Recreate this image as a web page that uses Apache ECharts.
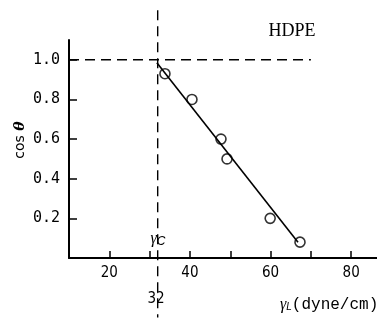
<!DOCTYPE html>
<html>
<head>
<meta charset="utf-8">
<script src="https://cdn.jsdelivr.net/npm/echarts@6/dist/echarts.min.js"></script>
<style>
  html, body { margin: 0; padding: 0; background: #fff; }
  #chart { width: 377px; height: 322px; }
</style>
</head>
<body>
<div id="chart"></div>
<script>
// 测定点 (γL, cosθ)
const surfaceTension = [33.8, 40.5, 47.7, 49.2, 59.9, 67.3];
const cosTheta = [0.93, 0.80, 0.60, 0.50, 0.20, 0.08];
// 拟合直线两端
const fitX = [31.8, 66.8];
const fitY = [0.985, 0.08];
// 临界表面张力
const criticalTension = 32;
const criticalSpan = [1.25, -0.30];
const unityLineX = [10, 70];
const xLabelValues = [20, 40, 60, 80];

const chart = echarts.init(document.getElementById('chart'), null, { renderer: 'canvas' });

const dashStyle = { color: '#000', width: 1.4, type: [10, 6] };
const narrowFont = '"DejaVu Sans Condensed", "Liberation Sans Narrow", "DejaVu Sans", sans-serif';

chart.setOption({
    animation: false,
    backgroundColor: '#fff',
    grid: { left: 69, right: 0, top: 40, bottom: 64 },
    xAxis: {
        type: 'value',
        min: 10,
        max: 86.4,
        interval: 10,
        axisLine: { show: true, lineStyle: { color: '#000', width: 2 } },
        axisTick: { show: true, inside: true, length: 7, lineStyle: { color: '#000', width: 1.5 } },
        splitLine: { show: false },
        axisLabel: {
            margin: 8,
            color: '#000',
            fontFamily: narrowFont,
            fontSize: 15,
            showMinLabel: false,
            showMaxLabel: false,
            formatter: v => xLabelValues.indexOf(v) >= 0 ? String(v) : ''
        }
    },
    yAxis: {
        type: 'value',
        min: 0,
        max: 1.1,
        interval: 0.2,
        axisLine: { show: true, lineStyle: { color: '#000', width: 2 } },
        axisTick: { show: true, inside: true, length: 8, lineStyle: { color: '#000', width: 1.5 } },
        splitLine: { show: false },
        axisLabel: {
            margin: 9,
            color: '#000',
            fontFamily: 'DejaVu Sans Mono',
            fontSize: 15,
            showMaxLabel: false,
            formatter: v => v === 0 ? '' : v.toFixed(1)
        }
    },
    series: [
        {
            // γc 竖虚线
            type: 'line',
            clip: false,
            silent: true,
            symbol: 'none',
            data: criticalSpan.map(y => [criticalTension, y]),
            lineStyle: dashStyle
        },
        {
            // cosθ = 1 横虚线
            type: 'line',
            clip: false,
            silent: true,
            symbol: 'none',
            data: unityLineX.map(x => [x, 1.0]),
            lineStyle: dashStyle
        },
        {
            type: 'line',
            symbol: 'none',
            data: fitX.map((x, i) => [x, fitY[i]]),
            lineStyle: { color: '#000', width: 1.6 }
        },
        {
            type: 'scatter',
            symbol: 'circle',
            symbolSize: 10,
            data: surfaceTension.map((x, i) => [x, cosTheta[i]]),
            itemStyle: { color: '#fff', borderColor: '#000', borderWidth: 1.6 }
        }
    ],
    graphic: [
        {
            type: 'text',
            x: 292, y: 31,
            style: {
                text: 'HDPE',
                font: '18px "Liberation Serif"',
                fill: '#000',
                textAlign: 'center',
                textVerticalAlign: 'middle'
            }
        },
        {
            type: 'text',
            x: 20, y: 140,
            rotation: Math.PI / 2,
            style: {
                text: '{a|cos }{b|θ}',
                textAlign: 'center',
                textVerticalAlign: 'middle',
                rich: {
                    a: { font: '14px "DejaVu Sans"', fill: '#000' },
                    b: { font: 'italic bold 14px "DejaVu Serif"', fill: '#000' }
                }
            }
        },
        {
            type: 'text',
            x: 158, y: 239,
            style: {
                text: '{g|γ}{s|C}',
                textAlign: 'center',
                textVerticalAlign: 'middle',
                rich: {
                    g: { font: 'italic 16px "Liberation Serif"', fill: '#000' },
                    s: { font: 'italic 12px "Liberation Sans"', fill: '#000', padding: [5, 0, 0, 0] }
                }
            }
        },
        {
            type: 'text',
            x: 156, y: 299,
            style: {
                text: String(criticalTension),
                font: '15px ' + narrowFont,
                fill: '#000',
                textAlign: 'center',
                textVerticalAlign: 'middle',
                backgroundColor: '#fff'
            }
        },
        {
            type: 'text',
            x: 280, y: 305,
            style: {
                text: '{g|γ}{s|L}{t|(dyne/cm)}',
                textAlign: 'left',
                textVerticalAlign: 'middle',
                rich: {
                    g: { font: 'italic 16px "Liberation Serif"', fill: '#000' },
                    s: { font: 'italic 10px "Liberation Sans"', fill: '#000', padding: [5, 0, 0, 0] },
                    t: { font: '16px "Liberation Mono"', fill: '#000' }
                }
            }
        }
    ]
});
</script>
</body>
</html>
